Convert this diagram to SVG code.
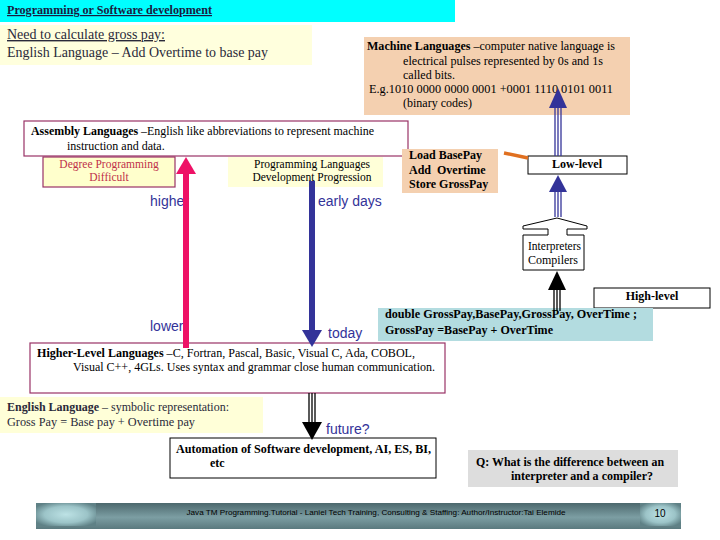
<svg xmlns="http://www.w3.org/2000/svg" width="720" height="540" viewBox="0 0 720 540">
<defs>
<style>
.s{font-family:"Liberation Serif","Times New Roman",serif;font-size:12px;fill:#000}
.b{font-weight:bold}
.a{font-family:"Liberation Sans",Arial,sans-serif;font-size:14px;fill:#333399}
.mag{fill:#fff;stroke:#993366;stroke-width:1.2}
.blk{fill:#fff;stroke:#000;stroke-width:1}
.peach{fill:#f4d0b0}
.yel{fill:#ffffd8}
.tri{stroke-width:1.3;fill:none}
</style>
<linearGradient id="fg" x1="0" y1="0" x2="0" y2="1">
<stop offset="0" stop-color="#4c686d"/>
<stop offset="0.55" stop-color="#7c9ea3"/>
<stop offset="1" stop-color="#5a797e"/>
</linearGradient>
<radialGradient id="lg" cx="0.5" cy="0.5" r="0.6">
<stop offset="0" stop-color="#bde2e5"/>
<stop offset="0.6" stop-color="#9cc4c8"/>
<stop offset="1" stop-color="#5f8186"/>
</radialGradient>
</defs>
<rect width="720" height="540" fill="#fff"/>

<g id="title">
<rect x="0" y="0" width="455" height="22" fill="#00ffff"/>
<text x="7" y="14" class="s b" text-decoration="underline" textLength="205" lengthAdjust="spacingAndGlyphs" style="fill:#1a1a40">Programming or Software development</text>
</g>

<g id="need">
<rect x="0" y="25" width="312" height="40" fill="#ffffdd"/>
<text x="7" y="39" class="s" style="font-size:14px;fill:#2a2a3a" text-decoration="underline" textLength="158" lengthAdjust="spacingAndGlyphs">Need to calculate gross pay:</text>
<text x="7" y="57" class="s" style="font-size:14px;fill:#2a2a3a" textLength="261" lengthAdjust="spacingAndGlyphs">English Language – Add Overtime to base pay</text>
</g>

<g id="machine">
<rect x="364" y="37" width="266" height="78" class="peach"/>
<text x="367" y="50" class="s" textLength="248" lengthAdjust="spacingAndGlyphs"><tspan class="b">Machine Languages</tspan> –computer native language is</text>
<text x="403" y="65" class="s" textLength="200" lengthAdjust="spacingAndGlyphs">electrical pulses represented by 0s and 1s</text>
<text x="403" y="79" class="s">called bits.</text>
<text x="369" y="93" class="s" textLength="244" lengthAdjust="spacingAndGlyphs">E.g.1010 0000 0000 0001 +0001 1110 0101 0011</text>
<text x="403" y="107" class="s">(binary codes)</text>
</g>

<g id="assembly">
<rect x="24" y="121" width="384" height="35" class="mag"/>
<text x="31" y="135" class="s" textLength="343" lengthAdjust="spacingAndGlyphs"><tspan class="b">Assembly Languages</tspan> –English like abbreviations to represent machine</text>
<text x="67" y="150" class="s">instruction and data.</text>
</g>

<g id="degree">
<rect x="43" y="157" width="132" height="30" fill="#ffffcc" stroke="#993366" stroke-width="1.2"/>
<text x="109" y="168" class="s" text-anchor="middle" style="fill:#c0304a;font-size:11.5px">Degree Programming</text>
<text x="109" y="181" class="s" text-anchor="middle" style="fill:#c0304a;font-size:11.5px">Difficult</text>
</g>

<g id="progression">
<rect x="228" y="157" width="155" height="30" class="yel"/>
<text x="312" y="168" class="s" text-anchor="middle" style="font-size:11.5px">Programming Languages</text>
<text x="312" y="181" class="s" text-anchor="middle" style="font-size:11.5px">Development Progression</text>
</g>

<g id="loadbox">
<rect x="402" y="149" width="96" height="44" class="peach"/>
<text x="409" y="159" class="s b">Load BasePay</text>
<text x="409" y="174" class="s b" xml:space="preserve">Add  Overtime</text>
<text x="409" y="188" class="s b">Store GrossPay</text>
</g>

<g id="lowlevel">
<rect x="528" y="156" width="99" height="18" class="blk"/>
<text x="577" y="168" class="s b" text-anchor="middle">Low-level</text>
</g>

<g id="interpreters">
<path d="M523,235 H548 V229 H523 V226 L557,218 L587,226 V229 H567 V235 H584 V270 H523 Z" class="blk"/>
<text x="528" y="250" class="s" textLength="53" lengthAdjust="spacingAndGlyphs">Interpreters</text>
<text x="528" y="264" class="s" textLength="50" lengthAdjust="spacingAndGlyphs">Compilers</text>
</g>

<g id="highlevel">
<rect x="594" y="288" width="116" height="20" class="blk"/>
<text x="652" y="300" class="s b" text-anchor="middle">High-level</text>
</g>

<g id="code">
<rect x="378" y="308" width="275" height="33" fill="#b3dce0"/>
<text x="385" y="318" class="s b" textLength="252" lengthAdjust="spacingAndGlyphs">double GrossPay,BasePay,GrossPay, OverTime ;</text>
<text x="385" y="334" class="s b" textLength="168" lengthAdjust="spacingAndGlyphs">GrossPay =BasePay + OverTime</text>
</g>

<g id="higherlevel">
<rect x="30" y="343" width="415" height="50" class="mag"/>
<text x="37" y="357" class="s" textLength="378" lengthAdjust="spacingAndGlyphs"><tspan class="b">Higher-Level Languages</tspan> –C, Fortran, Pascal, Basic, Visual C, Ada, COBOL,</text>
<text x="73" y="371" class="s" textLength="362" lengthAdjust="spacingAndGlyphs">Visual C++, 4GLs. Uses syntax and grammar close human communication.</text>
</g>

<g id="english">
<rect x="0" y="397" width="263" height="36" class="yel"/>
<text x="7" y="411" class="s" style="fill:#2a2a3a" textLength="222" lengthAdjust="spacingAndGlyphs"><tspan class="b">English Language</tspan> – symbolic representation:</text>
<text x="7" y="426" class="s" style="fill:#2a2a3a" textLength="188" lengthAdjust="spacingAndGlyphs">Gross Pay = Base pay + Overtime pay</text>
</g>

<g id="automation">
<rect x="170" y="438" width="266" height="40" class="blk"/>
<text x="176" y="453" class="s b" textLength="255" lengthAdjust="spacingAndGlyphs">Automation of Software development, AI, ES, BI,</text>
<text x="210" y="467" class="s b">etc</text>
</g>

<g id="question">
<rect x="468" y="450" width="210" height="37" fill="#dddddd"/>
<text x="476" y="466" class="s b" style="font-size:13px" textLength="188" lengthAdjust="spacingAndGlyphs">Q: What is the difference between an</text>
<text x="511" y="480" class="s b" style="font-size:13px" textLength="142" lengthAdjust="spacingAndGlyphs">interpreter and a compiler?</text>
</g>

<g id="labels">
<text x="150" y="206" class="a">higher</text>
<text x="318" y="206" class="a">early days</text>
<text x="150" y="331" class="a">lower</text>
<text x="328" y="338" class="a">today</text>
<text x="326" y="434" class="a">future?</text>
</g>

<g id="connectors">
<rect x="183" y="172" width="6" height="176" fill="#ee1166"/>
<polygon points="186,157 176,174 196,174" fill="#ee1166"/>
<rect x="309" y="181" width="6" height="150" fill="#333399"/>
<polygon points="312,347 302,330 322,330" fill="#333399"/>
<line x1="504" y1="153" x2="528" y2="158" stroke="#e07020" stroke-width="3.5"/>
<g stroke="#333399" class="tri">
<line x1="555" y1="107" x2="555" y2="156"/>
<line x1="558" y1="107" x2="558" y2="156"/>
<line x1="561" y1="107" x2="561" y2="156"/>
<line x1="555" y1="191" x2="555" y2="217"/>
<line x1="558" y1="191" x2="558" y2="217"/>
<line x1="561" y1="191" x2="561" y2="217"/>
</g>
<polygon points="558,88 549,108 567,108" fill="#333399"/>
<polygon points="558,175 549,192 567,192" fill="#333399"/>
<g stroke="#000" class="tri">
<line x1="554" y1="289" x2="554" y2="311"/>
<line x1="557" y1="289" x2="557" y2="311"/>
<line x1="560" y1="289" x2="560" y2="311"/>
<line x1="309" y1="393" x2="309" y2="423"/>
<line x1="312" y1="393" x2="312" y2="423"/>
<line x1="315" y1="393" x2="315" y2="423"/>
</g>
<polygon points="557,271 548,290 566,290" fill="#000"/>
<polygon points="312,440 302,422 322,422" fill="#000"/>
</g>

<g id="footer">
<rect x="36" y="503" width="645" height="26" fill="url(#fg)"/>
<rect x="36" y="503" width="60" height="23" fill="url(#lg)"/>
<rect x="640" y="503" width="41" height="23" fill="url(#lg)"/>
<text x="376" y="515" text-anchor="middle" style="font-family:'Liberation Sans',Arial,sans-serif;font-size:8px;fill:#000" textLength="379" lengthAdjust="spacingAndGlyphs">Java TM Programming.Tutorial - Laniel Tech Training, Consulting &amp; Staffing: Author/Instructor:Tai Elemide</text>
<text x="660" y="517" text-anchor="middle" style="font-family:'Liberation Sans',Arial,sans-serif;font-size:10px;fill:#000">10</text>
</g>
</svg>
